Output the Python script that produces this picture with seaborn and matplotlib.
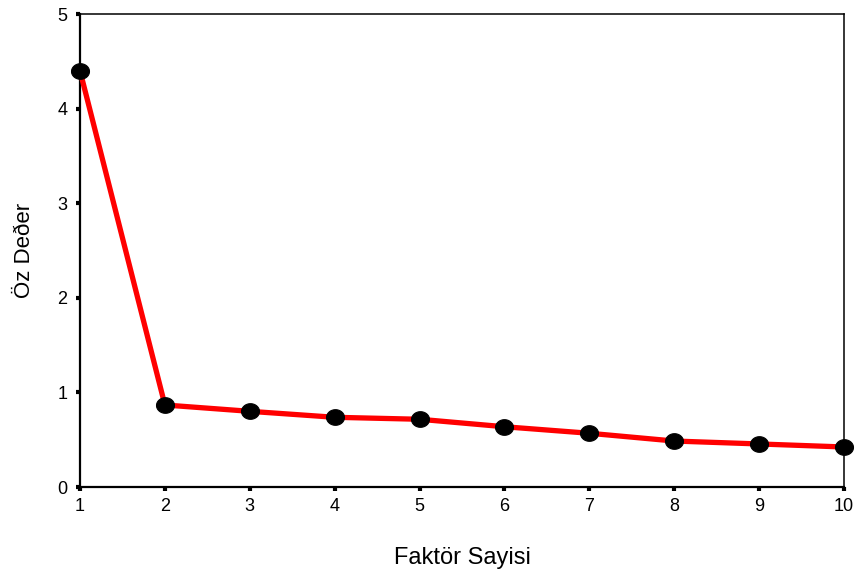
import numpy as np
import pandas as pd
import matplotlib
matplotlib.use("Agg")
import matplotlib.pyplot as plt
import seaborn as sns

factors = [1, 2, 3, 4, 5, 6, 7, 8, 9, 10]
eigenvalues = [4.40, 0.867, 0.80, 0.737, 0.716, 0.637, 0.568, 0.486, 0.455, 0.423]
x_ticks = [1, 2, 3, 4, 5, 6, 7, 8, 9, 10]
y_ticks = [0, 1, 2, 3, 4, 5]

sns.set_style("ticks")
plt.rcParams['font.family'] = ['Liberation Sans', 'DejaVu Sans']
plt.rcParams['text.color'] = 'black'
plt.rcParams['axes.labelcolor'] = 'black'

df = pd.DataFrame({"Faktör": factors, "Değer": eigenvalues})

fig = plt.figure(figsize=(8.59, 5.72), dpi=100)
ax = fig.add_axes([80/859, 85/572, 764/859, 473/572])

t = np.linspace(0, 2*np.pi, 40)
ellipse = np.column_stack([np.cos(t)*1.15, np.sin(t)])

sns.lineplot(data=df, x="Faktör", y="Değer", ax=ax, color="#ff0000", linewidth=3.8,
             marker=ellipse, markersize=13, markerfacecolor="black",
             markeredgecolor="black", clip_on=False, zorder=3)

ax.set_xlim(1, 10)
ax.set_ylim(0, 5)
ax.set_xticks(x_ticks)
ax.set_yticks(y_ticks)
ax.tick_params(axis="both", direction="out", length=3, width=3, labelsize=13,
               colors="black", labelcolor="black")
ax.tick_params(axis="y", pad=6)
ax.tick_params(axis="x", pad=5)
for side in ["left", "bottom"]:
    ax.spines[side].set_linewidth(1.6)
    ax.spines[side].set_color("black")
for side in ["top", "right"]:
    ax.spines[side].set_visible(True)
    ax.spines[side].set_linewidth(1.1)
    ax.spines[side].set_color("black")

ax.set_xlabel("Faktör Sayisi", fontsize=17, va="center", color="black")
ax.set_ylabel("Öz Deðer", fontsize=16, va="center", color="black")
ax.xaxis.set_label_coords(0.5, (487 - 558) / 473)
ax.yaxis.set_label_coords((25 - 80) / 764, 0.5)

fig.savefig("out.png", dpi=100)
